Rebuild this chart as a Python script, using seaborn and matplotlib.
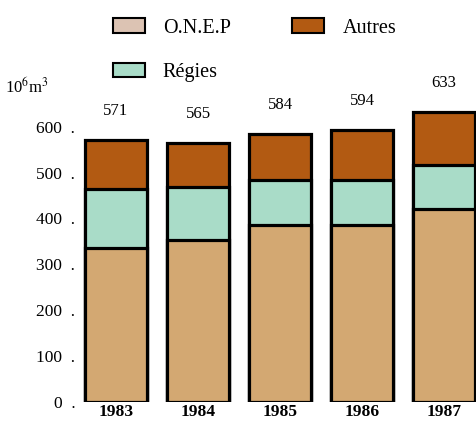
import matplotlib
matplotlib.use("Agg")
import matplotlib.pyplot as plt
from matplotlib.patches import Patch
import seaborn as sns
import pandas as pd

sns.set_theme(style="white")
plt.rcParams["font.family"] = ["Liberation Serif", "DejaVu Serif"]
plt.rcParams["mathtext.fontset"] = "stix"
plt.rcParams["text.color"] = "black"
plt.rcParams["xtick.color"] = "black"
plt.rcParams["ytick.color"] = "black"

# Production d'eau potable (10^6 m3)
years = ["1983", "1984", "1985", "1986", "1987"]
onep = [335, 353, 385, 385, 420]
regies = [130, 115, 98, 100, 97]
autres = [106, 97, 101, 109, 116]
totals = [571, 565, 584, 594, 633]
y_ticks = [0, 100, 200, 300, 400, 500, 600]

COL_ONEP = "#d3a872"
COL_REGIES = "#a9dcc8"
COL_AUTRES = "#b25a12"

df = pd.DataFrame({"year": years, "onep": onep, "regies": regies, "autres": autres})
df["lvl2"] = df["onep"] + df["regies"]
df["lvl3"] = df["lvl2"] + df["autres"]

fig = plt.figure(figsize=(4.77, 4.23), dpi=100)
ax = fig.add_axes([0.1635, 0.0504, 0.8365, 0.7364])

# stacked bars drawn back to front from cumulative sums
bar_kw = dict(width=0.76, edgecolor="black", linewidth=2.3, saturation=1, ax=ax)
sns.barplot(data=df, x="year", y="lvl3", color=COL_AUTRES, **bar_kw)
sns.barplot(data=df, x="year", y="lvl2", color=COL_REGIES, **bar_kw)
sns.barplot(data=df, x="year", y="onep", color=COL_ONEP, **bar_kw)

ax.set_xlim(-0.463, 4.40)
ax.set_ylim(0, 680)
ax.set_yticks(y_ticks)
ax.set_yticklabels([f"{v}  ." for v in y_ticks], fontsize=12.5)
ax.tick_params(axis="y", length=0, pad=2)
ax.tick_params(axis="x", length=0, pad=2)
ax.set_xticks(range(len(years)))
ax.set_xticklabels(years, fontsize=12.5, fontweight="bold")
ax.set_xlabel("")
ax.set_ylabel("")
for s in ax.spines.values():
    s.set_visible(False)

for i, t in enumerate(totals):
    ax.annotate(str(t), (i, df["lvl3"][i]), xytext=(0, 15), textcoords="offset points",
                ha="center", va="bottom", fontsize=12)

fig.text(0.01, 0.794, r"10$^6$m$^3$", fontsize=12, ha="left", va="center")

handles = [Patch(facecolor="#dcc3b3", edgecolor="black", linewidth=1.5, label="O.N.E.P"),
           Patch(facecolor=COL_REGIES, edgecolor="black", linewidth=1.5, label="Régies"),
           Patch(facecolor=COL_AUTRES, edgecolor="black", linewidth=1.5, label="Autres")]
fig.legend(handles=handles, ncol=2, loc="upper left", bbox_to_anchor=(0.198, 1.0),
           frameon=False, fontsize=14.5, handlelength=1.6, handleheight=0.75,
           columnspacing=3.05, labelspacing=1.25, handletextpad=0.9)

fig.savefig("out.png", dpi=100)
